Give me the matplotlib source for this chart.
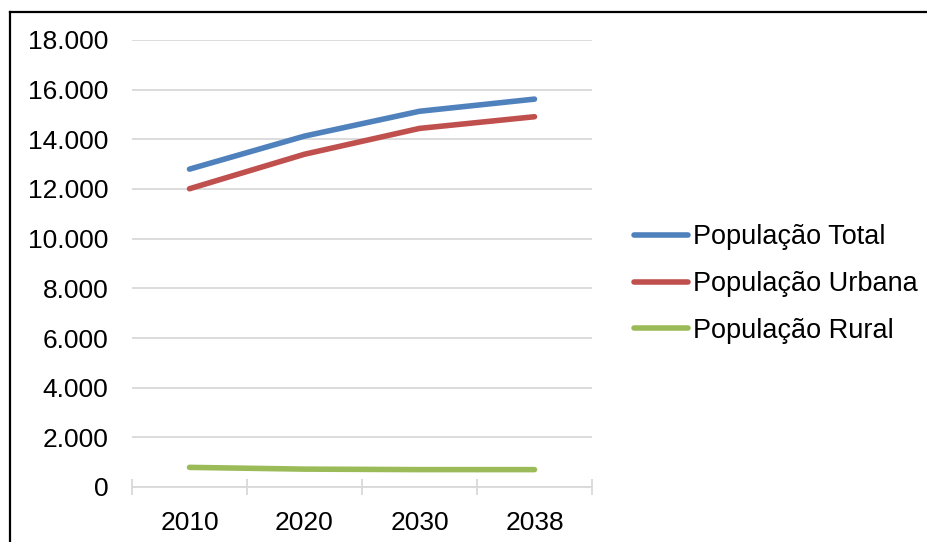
import matplotlib
matplotlib.use("Agg")
import matplotlib.pyplot as plt
from matplotlib.lines import Line2D
from matplotlib.ticker import FuncFormatter, MultipleLocator

years = ["2010", "2020", "2030", "2038"]
pop_total = [12800, 14130, 15130, 15620]
pop_urbana = [12010, 13400, 14440, 14910]
pop_rural = [790, 720, 700, 700]
labels = ["População Total", "População Urbana", "População Rural"]
colors = ["#4F81BD", "#C0504D", "#9BBB59"]

plt.rcParams['font.family'] = ['Liberation Sans', 'DejaVu Sans']
FS = 19.5
TFS = 19

W, H = 927, 542
fig = plt.figure(figsize=(W / 100, H / 100), dpi=100)
ax = fig.add_axes([132 / W, (H - 487) / H, (592 - 132) / W, (487 - 40) / H])

x = list(range(len(years)))
for series, lab, c in zip([pop_total, pop_urbana, pop_rural], labels, colors):
    ax.plot(x, series, color=c, lw=4.0, solid_capstyle='round', solid_joinstyle='round', label=lab)

ax.set_xlim(-0.5, len(years) - 0.5)
ax.set_ylim(0, 18000)
ax.yaxis.set_major_locator(MultipleLocator(2000))
ax.yaxis.set_major_formatter(FuncFormatter(lambda v, p: f"{int(v):,}".replace(",", ".")))
ax.grid(axis='y', color='#D9D9D9', lw=1.3)
ax.set_axisbelow(True)
for s in ['top', 'right', 'left']:
    ax.spines[s].set_visible(False)
ax.spines['bottom'].set_color('#D9D9D9')
ax.spines['bottom'].set_linewidth(1.3)

ax.set_xticks(x)
ax.set_xticklabels(years)
ax.set_xticks([i - 0.5 for i in range(len(years) + 1)], minor=True)
ax.tick_params(axis='x', which='major', length=0, pad=17, labelsize=TFS)
ax.tick_params(axis='x', which='minor', length=11, direction='inout', color='#D9D9D9', width=1.3)
ax.tick_params(axis='y', length=0, pad=17, labelsize=TFS)

leg = ax.legend(loc='center left', bbox_to_anchor=(620 / W, (H - 284) / H),
                bbox_transform=fig.transFigure, frameon=False, fontsize=FS,
                handlelength=2.0, handletextpad=0.18, labelspacing=0.76, borderpad=0)

fig.add_artist(Line2D([9.5 / W, 1], [(H - 11.5) / H] * 2, transform=fig.transFigure, color='black', lw=1.6))
fig.add_artist(Line2D([9.5 / W] * 2, [0, (H - 11.5) / H], transform=fig.transFigure, color='black', lw=1.6))

fig.savefig("out.png", dpi=100)
